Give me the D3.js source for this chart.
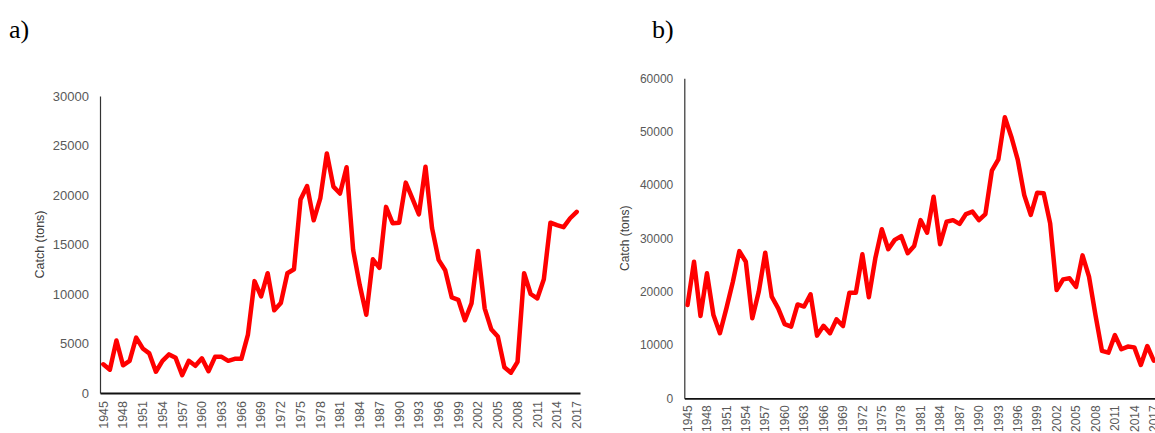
<!DOCTYPE html>
<html>
<head>
<meta charset="utf-8">
<script src="https://cdn.jsdelivr.net/npm/d3@7"></script>
<style>
  html, body { margin: 0; padding: 0; background: #fff; }
  svg { display: block; }
</style>
</head>
<body>
<svg id="chart" width="1155" height="433"></svg>
<script>
// Years 1945–2017
const years = [
  1945,1946,1947,1948,1949,1950,1951,1952,1953,1954,1955,1956,1957,1958,1959,1960,
  1961,1962,1963,1964,1965,1966,1967,1968,1969,1970,1971,1972,1973,1974,1975,1976,
  1977,1978,1979,1980,1981,1982,1983,1984,1985,1986,1987,1988,1989,1990,1991,1992,
  1993,1994,1995,1996,1997,1998,1999,2000,2001,2002,2003,2004,2005,2006,2007,2008,
  2009,2010,2011,2012,2013,2014,2015,2016,2017
];

// Panel a) catch in tons
const catchA = [
  2900,2350,5300,2800,3250,5600,4500,4000,2150,3250,3900,3550,1800,3250,2750,3500,
  2200,3650,3650,3250,3450,3450,5900,11300,9750,12100,8350,9100,12100,12500,19550,20900,
  17450,19650,24200,20850,20150,22800,14450,10900,7900,13500,12650,18800,17150,17200,21250,19650,
  18050,22850,16650,13450,12400,9650,9400,7350,9050,14350,8550,6450,5700,2600,2050,3150,
  12100,10000,9550,11500,17200,16950,16750,17650,18300
];

// Panel b) catch in tons
const catchB = [
  17500,25600,15450,23450,15600,12200,16850,21850,27600,25600,15000,20000,27300,19050,16850,13900,
  13450,17600,17200,19500,11750,13600,12200,14800,13550,19800,19800,27000,18950,26250,31700,27950,
  29700,30400,27200,28550,33400,31050,37800,28900,33100,33400,32700,34550,35000,33400,34550,42700,
  44800,52700,49050,44700,38100,34400,38550,38450,32800,20300,22300,22500,20900,26800,22800,15600,
  8900,8550,11850,9200,9700,9550,6250,9800,7050
];

// Y-axis tick values
const ticksA = [0,5000,10000,15000,20000,25000,30000];
const ticksB = [0,10000,20000,30000,40000,50000,60000];

// Every third year is labelled on the category axis
const yearLabels = years.filter((y, i) => i % 3 === 0);

const panelLetters = ["a)", "b)"];
const yTitle = "Catch (tons)";

const svg = d3.select("#chart");

function drawPanel(cfg) {
  const g = svg.append("g");

  const x = d3.scaleBand()
    .domain(years)
    .range([cfg.left, cfg.right])
    .padding(0);

  const y = d3.scaleLinear()
    .domain([0, cfg.max])
    .range([cfg.bottom, cfg.top]);

  // Value axis (left)
  const yAxis = d3.axisLeft(y)
    .tickValues(cfg.ticks)
    .tickSize(0)
    .tickPadding(cfg.tickPad)
    .tickFormat(d3.format("d"));
  const ya = g.append("g")
    .attr("transform", `translate(${cfg.left},0)`)
    .call(yAxis);
  ya.select(".domain").attr("stroke", "#333").attr("stroke-width", 1.2);
  ya.selectAll("text")
    .attr("fill", "#595959")
    .style("font-family", "'Liberation Sans', Arial, sans-serif")
    .style("font-size", cfg.fontY + "px");

  // Category axis (bottom), labels rotated
  const xAxis = d3.axisBottom(x)
    .tickValues(yearLabels)
    .tickSize(0)
    .tickPadding(0);
  const xa = g.append("g")
    .attr("transform", `translate(0,${cfg.bottom})`)
    .call(xAxis);
  xa.select(".domain").attr("stroke", "#111").attr("stroke-width", 1.8);
  xa.selectAll("text")
    .attr("fill", "#595959")
    .style("font-family", "'Liberation Sans', Arial, sans-serif")
    .style("font-size", cfg.fontX + "px")
    .attr("text-anchor", "end")
    .attr("dy", "0.35em")
    .attr("y", 0)
    .attr("transform", `translate(0,${cfg.labelGap}) rotate(-90)`);

  // Axis title
  g.append("text")
    .attr("transform", `translate(${cfg.titleX},${(cfg.top + cfg.bottom) / 2}) rotate(-90)`)
    .attr("text-anchor", "middle")
    .attr("fill", "#404040")
    .style("font-family", "'Liberation Sans', Arial, sans-serif")
    .style("font-size", cfg.fontTitle + "px")
    .text(yTitle);

  // Catch series
  const line = d3.line()
    .x(d => x(d.year) + x.bandwidth() / 2)
    .y(d => y(d.value));
  g.append("path")
    .datum(years.map((yr, i) => ({ year: yr, value: cfg.values[i] })))
    .attr("fill", "none")
    .attr("stroke", "#ff0000")
    .attr("stroke-width", 4.5)
    .attr("stroke-linejoin", "round")
    .attr("stroke-linecap", "round")
    .attr("d", line);

  // Panel letter
  svg.append("text")
    .attr("x", cfg.letterX)
    .attr("y", 38)
    .attr("fill", "#000")
    .style("font-family", "'Liberation Serif', 'DejaVu Serif', serif")
    .style("font-size", "26px")
    .text(cfg.letter);
}

drawPanel({
  values: catchA, max: 30000, ticks: ticksA,
  left: 100, right: 580, top: 96, bottom: 393,
  tickPad: 11, fontY: 13, fontX: 12.5, fontTitle: 12.5,
  labelGap: 8, titleX: 44, letter: panelLetters[0], letterX: 9
});

drawPanel({
  values: catchB, max: 60000, ticks: ticksB,
  left: 684.3, right: 1157, top: 78.3, bottom: 398.3,
  tickPad: 11, fontY: 12, fontX: 12, fontTitle: 12,
  labelGap: 7, titleX: 629, letter: panelLetters[1], letterX: 652
});
</script>
</body>
</html>
